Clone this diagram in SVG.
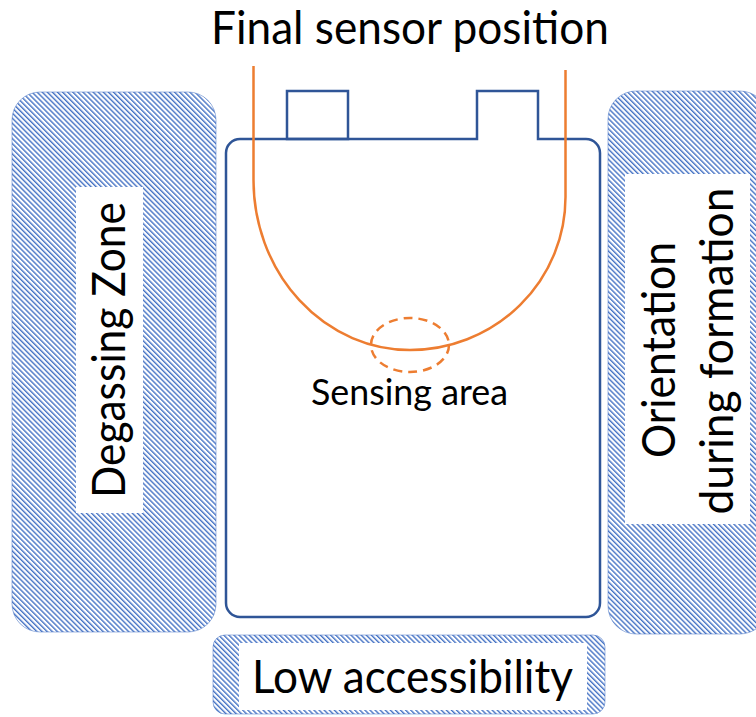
<svg xmlns="http://www.w3.org/2000/svg" width="756" height="717" viewBox="0 0 756 717">
  <style>
    .zone { fill: url(#hatch); stroke: #4472C4; stroke-opacity: 0.5; stroke-width: 1; }
    .label-bg { fill: #FFFFFF; }
    .label { font-family: Lato, "Open Sans", "Liberation Sans", sans-serif; fill: #000000; text-anchor: middle; }
    .cell { fill: none; stroke: #2F5597; stroke-width: 2.5; stroke-linejoin: miter; }
    .sensor { fill: none; stroke: #ED7D31; stroke-width: 2.5; }
    .sensing { fill: none; stroke: #ED7D31; stroke-width: 2.5; stroke-dasharray: 9 6; }
  </style>
  <defs>
    <pattern id="hatch" patternUnits="userSpaceOnUse" width="3.6" height="10" patternTransform="rotate(-45)">
      <rect x="0" y="0" width="3.6" height="10" fill="#FFFFFF"/>
      <rect x="0" y="0" width="1.4" height="10" fill="#4472C4"/>
    </pattern>
  </defs>

  <rect width="756" height="717" fill="#FFFFFF"/>

  <g id="degassing-zone">
    <rect class="zone" x="12" y="92" width="204" height="540" rx="28" ry="28"/>
    <rect class="label-bg" x="76" y="187" width="67" height="326"/>
    <text class="label" transform="translate(125,350) rotate(-90)" font-size="46" textLength="296" lengthAdjust="spacingAndGlyphs">Degassing Zone</text>
  </g>

  <g id="orientation-zone">
    <rect class="zone" x="608" y="91" width="160" height="543" rx="28" ry="28"/>
    <rect class="label-bg" x="625" y="174" width="125" height="350"/>
    <text class="label" transform="translate(675,350) rotate(-90)" font-size="46" textLength="216" lengthAdjust="spacingAndGlyphs">Orientation</text>
    <text class="label" transform="translate(733,351) rotate(-90)" font-size="46" textLength="327" lengthAdjust="spacingAndGlyphs">during formation</text>
  </g>

  <g id="low-accessibility">
    <rect class="zone" x="213" y="635" width="392" height="79" rx="12" ry="12"/>
    <rect class="label-bg" x="239" y="643" width="348" height="67"/>
    <text class="label" x="412.5" y="693" font-size="46" textLength="321" lengthAdjust="spacingAndGlyphs">Low accessibility</text>
  </g>

  <g id="cell">
    <path class="cell" d="M226,153 A14,14 0 0 1 240,139 H477 V91 H538 V139 H586 A14,14 0 0 1 600,153 V603 A14,14 0 0 1 586,617 H240 A14,14 0 0 1 226,603 Z"/>
    <rect class="cell" x="287" y="91" width="61" height="48"/>
  </g>

  <g id="connectors">
    <path id="sensor" class="sensor" d="M253.5,66 V180 A156.5,170 0 0 0 410,350 A155.5,153 0 0 0 565.5,197 V70"/>
  </g>

  <g id="sensing-area">
    <ellipse class="sensing" cx="410" cy="345" rx="39" ry="27"/>
    <text class="label" x="409.5" y="405" font-size="36" textLength="197" lengthAdjust="spacingAndGlyphs">Sensing area</text>
  </g>

  <g id="title">
    <text class="label" x="410" y="44" font-size="46" textLength="398" lengthAdjust="spacingAndGlyphs">Final sensor position</text>
  </g>
</svg>
